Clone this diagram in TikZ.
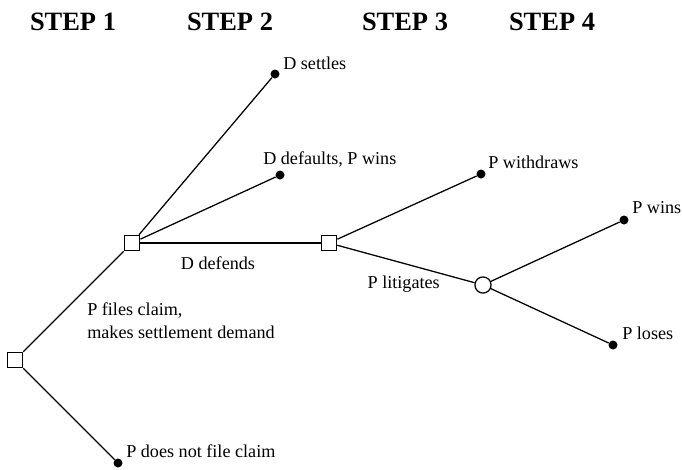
\documentclass[tikz,border=0pt]{standalone}
\usepackage{fontspec}
\setmainfont{Liberation Serif}

\tikzset{
	choice/.style={draw, line width=0.9pt, minimum size=11pt, inner sep=0pt},
	chance/.style={draw, circle, line width=0.9pt, minimum size=11.5pt, inner sep=0pt},
	leaf/.style={circle, fill=black, minimum size=6.4pt, inner sep=0pt},
	lbl/.style={anchor=west, inner sep=0pt, font=\fontsize{12.9}{16.3}\selectfont},
	steplbl/.style={inner sep=0pt, font=\fontsize{18.8}{20}\selectfont\bfseries},
	branch/.style={line width=0.9pt}
}

\begin{document}
\begin{tikzpicture}[x=0.025cm, y=-0.025cm]

		\useasboundingbox (0,0) rectangle (682,469);

		% column headings
		\node[steplbl] (s1) at (73,22) {STEP 1};
		\node[steplbl] (s2) at (230,22) {STEP 2};
		\node[steplbl] (s3) at (405,22) {STEP 3};
		\node[steplbl] (s4) at (552,22) {STEP 4};

		% decision and chance points
		\node[choice] (root) at (15,360) {};
		\node[choice] (file) at (132,243) {};
		\node[choice] (defend) at (329,243) {};
		\node[chance] (court) at (483,285) {};

		% end points
		\node[leaf] (settle) at (275,74) {};
		\node[leaf] (default) at (280,175) {};
		\node[leaf] (nofile) at (118,463) {};
		\node[leaf] (withdraw) at (481,174) {};
		\node[leaf] (win) at (624,220) {};
		\node[leaf] (lose) at (613,345) {};

		\draw[branch] (root) -- (file);
		\draw[branch] (root) -- (nofile);
		\draw[branch] (file) -- (settle);
		\draw[branch] (file) -- (default);
		\draw[branch] (file) -- (defend);
		\draw[branch] (defend) -- (withdraw);
		\draw[branch] (defend) -- (court);
		\draw[branch] (court) -- (win);
		\draw[branch] (court) -- (lose);

		\node[lbl] (lsettle) at (283,63) {D settles};
		\node[lbl] (ldefault) at (263,160) {D defaults, P wins};
		\node[lbl] (lwithdraw) at (488,162) {P withdraws};
		\node[lbl] (lwin) at (632,208) {P wins};
		\node[lbl] (llose) at (622,333) {P loses};
		\node[lbl] (lnofile) at (126,451) {P does not file claim};
		\node[lbl, anchor=center] (ldefend) at (218,263) {D defends};
		\node[lbl, anchor=east] (llitigate) at (440,284) {P litigates};
		\node[lbl, align=left] (lfile) at (87,321) {P files claim,\\makes settlement demand};

\end{tikzpicture}
\end{document}
